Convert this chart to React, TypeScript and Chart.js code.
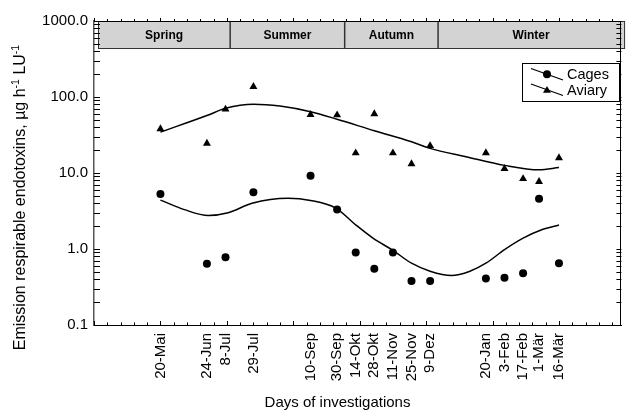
import React, { useEffect, useRef } from 'react';
import { Chart, registerables } from 'chart.js';

Chart.register(...registerables);

// ---- data ----
const dateLabels = ['20-Mai', '24-Jun', '8-Jul', '29-Jul', '10-Sep', '30-Sep', '14-Okt', '28-Okt', '11-Nov', '25-Nov', '9-Dez', '20-Jan', '3-Feb', '17-Feb', '1-Mär', '16-Mär'];
// days counted from 20-Mai
const dayNumbers = [0, 35, 49, 70, 113, 133, 147, 161, 175, 189, 203, 245, 259, 273, 285, 300];
const cagesValues = [5.3, 0.64, 0.78, 5.6, 9.2, 3.3, 0.9, 0.55, 0.9, 0.38, 0.38, 0.41, 0.42, 0.48, 4.6, 0.65];
const aviaryValues = [38, 24.5, 69, 137, 58.5, 58, 18.3, 60, 18.3, 13.2, 22.8, 18.4, 11.4, 8.4, 7.7, 15.8];

const cagesFitDays = [0, 18, 36, 51, 69, 96, 113, 132, 147, 160, 175, 189, 203, 219, 233, 245, 259, 273, 287, 300];
const cagesFitValues = [4.4, 3.3, 2.76, 3.0, 4.0, 4.65, 4.35, 3.45, 2.08, 1.39, 0.96, 0.65, 0.51, 0.447, 0.51, 0.65, 0.98, 1.39, 1.79, 2.07];
const aviaryFitDays = [0, 35, 49, 70, 90, 113, 133, 161, 189, 203, 230, 259, 285, 300];
const aviaryFitValues = [34.5, 57, 71, 80.5, 76, 64, 51, 36, 25.8, 21.1, 16.4, 12.6, 11, 11.8];

const yTickValues = [0.1, 1, 10, 100, 1000];
const xMinorStepDays = 10;
const xMajorStepDays = 50;

const seasonNames = ['Spring', 'Summer', 'Autumn', 'Winter'];
const seasonBounds = [-47, 52.5, 138.7, 209, 349];
const seasonBandRange = [442, 1000];

const legendNames = ['Cages', 'Aviary'];

const FONT = '"Liberation Sans", Arial, Helvetica, sans-serif';

function drawTriangle(ctx: CanvasRenderingContext2D, x: number, y: number, r: number) {
  const s = Math.sin(Math.PI / 3) * r;
  const c = Math.cos(Math.PI / 3) * r;
  ctx.beginPath();
  ctx.moveTo(x, y - r);
  ctx.lineTo(x + s, y + c);
  ctx.lineTo(x - s, y + c);
  ctx.closePath();
  ctx.fill();
}

const decorPlugin = {
  id: 'decor',
  beforeDatasetsDraw(chart: any) {
    const { ctx, scales } = chart;
    const x = scales.x;
    const y = scales.y;
    ctx.save();
    const yTop = y.getPixelForValue(seasonBandRange[1]);
    const yBot = y.getPixelForValue(seasonBandRange[0]);
    const xs = seasonBounds.map((d) => x.getPixelForValue(d));
    ctx.fillStyle = '#d3d3d3';
    ctx.fillRect(xs[0], yTop, xs[xs.length - 1] - xs[0], yBot - yTop);
    ctx.strokeStyle = '#333';
    ctx.lineWidth = 1;
    ctx.strokeRect(Math.round(xs[0]) + 0.5, Math.round(yTop) + 0.5, xs[xs.length - 1] - xs[0], Math.round(yBot - yTop));
    ctx.lineWidth = 1.5;
    for (let i = 1; i < xs.length - 1; i++) {
      ctx.beginPath();
      ctx.moveTo(xs[i], yTop);
      ctx.lineTo(xs[i], yBot);
      ctx.stroke();
    }
    ctx.fillStyle = '#000';
    ctx.font = `bold 12px ${FONT}`;
    ctx.textAlign = 'center';
    ctx.textBaseline = 'alphabetic';
    const right = chart.chartArea.right;
    for (let i = 0; i < seasonNames.length; i++) {
      const a = xs[i];
      const b = Math.min(xs[i + 1], right + 6);
      ctx.fillText(seasonNames[i], (a + b) / 2, (yTop + yBot) / 2 + 4.5);
    }
    ctx.restore();
  },
  afterDraw(chart: any) {
    const { ctx, chartArea: ca, scales } = chart;
    const x = scales.x;
    const y = scales.y;
    ctx.save();
    ctx.strokeStyle = '#000';
    ctx.lineWidth = 1;
    // top & right frame
    ctx.beginPath();
    ctx.moveTo(ca.left, Math.round(ca.top) + 0.5);
    ctx.lineTo(ca.right, Math.round(ca.top) + 0.5);
    ctx.moveTo(Math.round(ca.right) - 0.5, ca.top);
    ctx.lineTo(Math.round(ca.right) - 0.5, ca.bottom);
    ctx.stroke();
    // x ticks (bottom: inward up, top: outward up)
    ctx.beginPath();
    for (let d = x.min; d <= x.max; d += xMinorStepDays) {
      const px = Math.round(x.getPixelForValue(d)) + 0.5;
      const major = Math.round(d) % xMajorStepDays === 0;
      const len = major ? 4 : 2.5;
      ctx.moveTo(px, ca.bottom);
      ctx.lineTo(px, ca.bottom - len);
      ctx.moveTo(px, ca.top);
      ctx.lineTo(px, ca.top - (major ? 3 : 2));
    }
    // y log ticks (left and right, inward)
    for (let e = -1; e <= 3; e++) {
      const base = Math.pow(10, e);
      for (let m = 1; m <= 9; m++) {
        const v = m * base;
        if (v > 1000.0001) break;
        const py = Math.round(y.getPixelForValue(v)) + 0.5;
        ctx.moveTo(ca.left, py);
        ctx.lineTo(ca.left + 6, py);
        ctx.moveTo(ca.right, py);
        ctx.lineTo(ca.right - 5, py);
      }
    }
    ctx.stroke();

    // legend
    const lx = 522.5, ly = 63.5, lw = 97, lh = 38;
    ctx.fillStyle = '#fff';
    ctx.fillRect(lx, ly, lw, lh);
    ctx.strokeStyle = '#000';
    ctx.lineWidth = 1;
    ctx.strokeRect(lx, ly, lw, lh);
    ctx.lineWidth = 1.3;
    ctx.beginPath();
    ctx.moveTo(531, 68.5);
    ctx.lineTo(563, 80);
    ctx.moveTo(531, 84);
    ctx.lineTo(563, 95.5);
    ctx.stroke();
    ctx.fillStyle = '#000';
    ctx.beginPath();
    ctx.arc(547, 74.2, 4, 0, Math.PI * 2);
    ctx.fill();
    drawTriangle(ctx, 547, 90.5, 4.6);
    ctx.font = `14.5px ${FONT}`;
    ctx.textAlign = 'left';
    ctx.textBaseline = 'alphabetic';
    ctx.fillText(legendNames[0], 567, 79);
    ctx.fillText(legendNames[1], 567, 94.5);

    // axis titles
    ctx.font = `15px ${FONT}`;
    ctx.textAlign = 'center';
    ctx.fillText('Days of investigations', 337.5, 407);

    // y title with superscripts
    const parts: [string, boolean][] = [
      ['Emission respirable endotoxins, µg h', false],
      ['-1', true],
      [' LU', false],
      ['-1', true],
    ];
    const normalFont = `16px ${FONT}`;
    const supFont = `10.5px ${FONT}`;
    let total = 0;
    const widths = parts.map(([t, sup]) => {
      ctx.font = sup ? supFont : normalFont;
      const w = ctx.measureText(t).width;
      total += w;
      return w;
    });
    ctx.translate(25, 197.5);
    ctx.rotate(-Math.PI / 2);
    ctx.textAlign = 'left';
    let cx = -total / 2;
    parts.forEach(([t, sup], i) => {
      ctx.font = sup ? supFont : normalFont;
      ctx.fillText(t, cx, sup ? -6.5 : 0);
      cx += widths[i];
    });
    ctx.restore();
  },
};

export default function App() {
  const canvasRef = useRef<HTMLCanvasElement | null>(null);

  useEffect(() => {
    if (!canvasRef.current) return;
    const toXY = (xs: number[], ys: number[]) => xs.map((d, i) => ({ x: d, y: ys[i] }));
    const chart = new Chart(canvasRef.current, {
      type: 'line',
      data: {
        datasets: [
          {
            label: 'Cages fit',
            data: toXY(cagesFitDays, cagesFitValues),
            borderColor: '#000',
            borderWidth: 1.5,
            pointRadius: 0,
            fill: false,
            cubicInterpolationMode: 'monotone',
          },
          {
            label: 'Aviary fit',
            data: toXY(aviaryFitDays, aviaryFitValues),
            borderColor: '#000',
            borderWidth: 1.5,
            pointRadius: 0,
            fill: false,
            cubicInterpolationMode: 'monotone',
          },
          {
            label: legendNames[0],
            data: toXY(dayNumbers, cagesValues),
            showLine: false,
            pointStyle: 'circle',
            pointRadius: 4,
            pointBackgroundColor: '#000',
            pointBorderColor: '#000',
            pointBorderWidth: 0,
          },
          {
            label: legendNames[1],
            data: toXY(dayNumbers, aviaryValues),
            showLine: false,
            pointStyle: 'triangle',
            pointRadius: 4.6,
            pointBackgroundColor: '#000',
            pointBorderColor: '#000',
            pointBorderWidth: 0,
          },
        ] as any,
      },
      options: {
        animation: false,
        responsive: false,
        devicePixelRatio: 1,
        layout: { padding: { top: 21, right: 1, left: 0, bottom: 0 } },
        plugins: { legend: { display: false }, tooltip: { enabled: false } },
        scales: {
          x: {
            type: 'linear',
            min: -50,
            max: 347,
            grid: { display: false, drawTicks: false },
            border: { display: true, color: '#000', width: 1 },
            afterBuildTicks: (s: any) => {
              s.ticks = dayNumbers.map((v) => ({ value: v }));
            },
            afterFit: (s: any) => {
              s.height = 86;
            },
            ticks: {
              autoSkip: false,
              minRotation: 90,
              maxRotation: 90,
              padding: 8,
              color: '#000',
              font: { family: FONT, size: 15 },
              callback: (_v: any, i: number) => dateLabels[i],
            },
          },
          y: {
            type: 'logarithmic',
            min: 0.1,
            max: 1000,
            grid: { display: false, drawTicks: false },
            border: { display: true, color: '#555', width: 1.5 },
            afterBuildTicks: (s: any) => {
              s.ticks = yTickValues.map((v) => ({ value: v }));
            },
            afterFit: (s: any) => {
              s.width = 94;
            },
            ticks: {
              padding: 6,
              color: '#000',
              font: { family: FONT, size: 15 },
              callback: (v: any) => Number(v).toFixed(1),
            },
          },
        },
      } as any,
      plugins: [decorPlugin],
    });
    return () => chart.destroy();
  }, []);

  return (
    <div style={{ position: 'fixed', left: 0, top: 0, width: 626, height: 411, background: '#fff' }}>
      <canvas ref={canvasRef} width={626} height={411} style={{ width: 626, height: 411, display: 'block' }} />
    </div>
  );
}
